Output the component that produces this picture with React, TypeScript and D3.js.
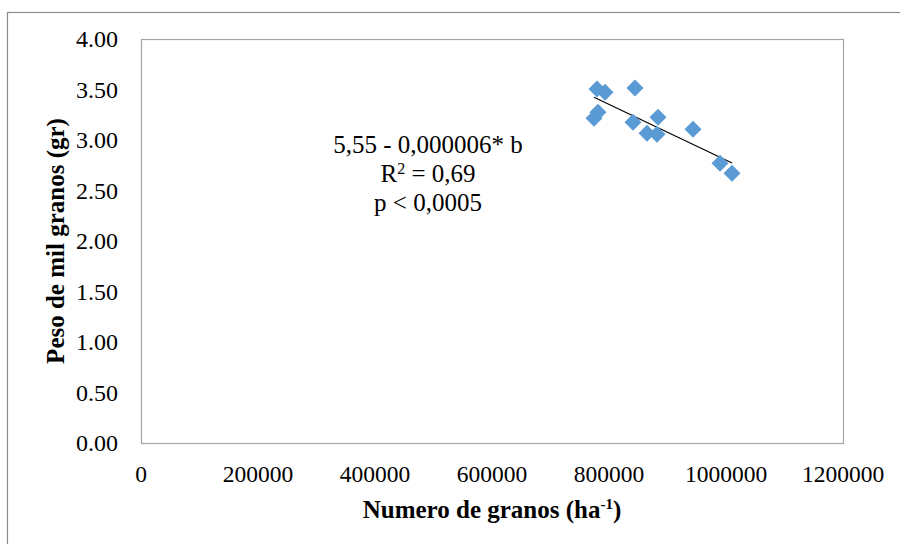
import React from "react";
import * as d3 from "d3";

const granos: number[] = [779500, 793200, 844400, 781200, 774400, 841000, 883800, 865000, 882100, 943600, 989700, 1010300];
const peso: number[] = [3.504, 3.474, 3.514, 3.275, 3.216, 3.176, 3.226, 3.067, 3.057, 3.107, 2.769, 2.670];
const xTicks: number[] = [0, 200000, 400000, 600000, 800000, 1000000, 1200000];
const yTicks: number[] = [0, 0.5, 1, 1.5, 2, 2.5, 3, 3.5, 4];
const annotation: string[] = ["5,55 - 0,000006* b", "R2 = 0,69", "p < 0,0005"];

const W = 900, H = 544;
const L = 141, R = 843, T = 39, B = 443;
const FONT = "'Liberation Serif', 'Times New Roman', serif";

export default function App() {
  const x = d3.scaleLinear().domain([0, 1200000]).range([L, R]);
  const y = d3.scaleLinear().domain([0, 4]).range([B, T]);

  const mx = d3.mean(granos)!;
  const my = d3.mean(peso)!;
  let sxy = 0, sxx = 0;
  granos.forEach((g, i) => { sxy += (g - mx) * (peso[i] - my); sxx += (g - mx) * (g - mx); });
  const slope = sxy / sxx;
  const icpt = my - slope * mx;
  const x0 = d3.min(granos)!, x1 = d3.max(granos)!;
  const line = d3.line<number>().x(d => x(d)).y(d => y(icpt + slope * d));

  const diamond = (cx: number, cy: number, r: number) =>
    `M${cx},${cy - r}L${cx + r},${cy}L${cx},${cy + r}L${cx - r},${cy}Z`;

  return (
    <svg width={W} height={H} style={{ position: "absolute", left: 0, top: 0, background: "#fff" }} fontFamily={FONT}>
      <rect x={0} y={0} width={W} height={H} fill="#fff" />
      <rect x={7.5} y={12.5} width={W + 10} height={H + 10} fill="none" stroke="#8c8c8c" strokeWidth={1.2} />
      <rect x={L + 0.5} y={T + 0.5} width={R - L} height={B - T} fill="none" stroke="#a6a6a6" strokeWidth={1.2} />
      {yTicks.map(t => (
        <text key={"y" + t} x={118} y={y(t)} textAnchor="end" dominantBaseline="central" fontSize={24} fill="#000">
          {t.toFixed(2)}
        </text>
      ))}
      {xTicks.map(t => (
        <text key={"x" + t} x={x(t)} y={482} textAnchor="middle" fontSize={23.5} fill="#000">
          {String(t)}
        </text>
      ))}
      <text x={(L + R) / 2} y={518} textAnchor="middle" fontSize={25} fontWeight="bold" fill="#000">
        Numero de granos (ha<tspan dy={-9} fontSize={15}>-1</tspan><tspan dy={9}>)</tspan>
      </text>
      <text transform={`translate(55, ${(T + B) / 2}) rotate(-90)`} textAnchor="middle" dominantBaseline="central" fontSize={25} fontWeight="bold" fill="#000">
        Peso de mil granos (gr)
      </text>
      <path d={line([x0, x1]) || ""} stroke="#000" strokeWidth={1.2} fill="none" />
      {granos.map((g, i) => (
        <path key={i} d={diamond(x(g), y(peso[i]), 8.5)} fill="#5b9bd5" />
      ))}
      <text x={428} y={153} textAnchor="middle" fontSize={25} fill="#000">{annotation[0]}</text>
      <text x={428} y={182} textAnchor="middle" fontSize={25} fill="#000">
        R<tspan dy={-8} fontSize={16}>2</tspan><tspan dy={8}> = 0,69</tspan>
      </text>
      <text x={428} y={211} textAnchor="middle" fontSize={25} fill="#000">{annotation[2]}</text>
    </svg>
  );
}
